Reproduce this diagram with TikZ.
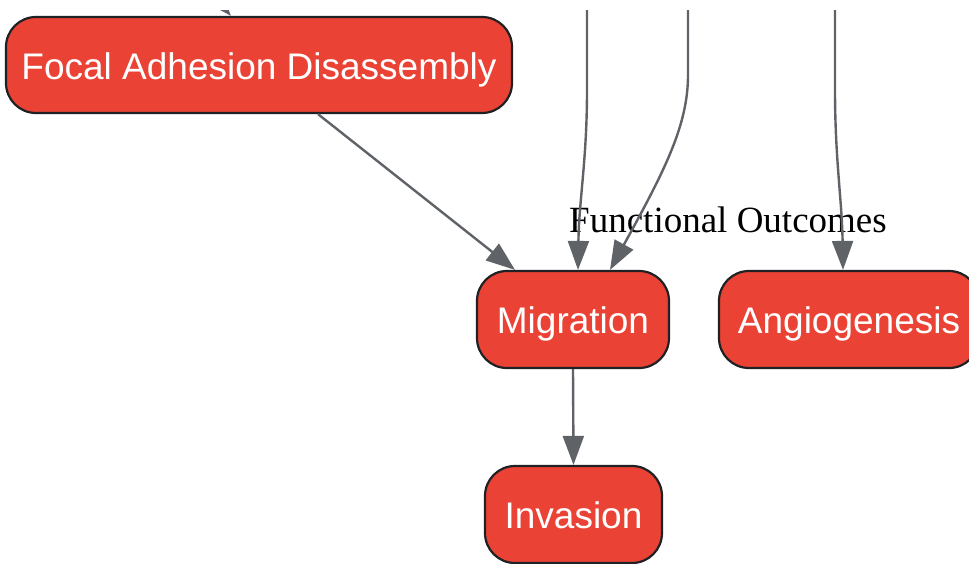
\documentclass[tikz,border=0pt]{standalone}
\usepackage{fontspec}
\setmainfont{Liberation Serif}
\newfontfamily\nodefont{Liberation Sans}
\usetikzlibrary{arrows.meta,calc}
\definecolor{nodered}{HTML}{EA4335}
\definecolor{edgegray}{HTML}{5F6368}
\definecolor{borderdark}{HTML}{202124}
\tikzset{
  proc/.style={draw=borderdark, line width=2.2pt, fill=nodered, rounded corners=30pt,
    text=white, font=\nodefont\fontsize{37}{40}\selectfont, inner sep=0pt, align=center,
    text height=31pt, text depth=3pt},
  conn/.style={draw=edgegray, line width=2.4pt, -{Triangle[length=29pt,width=21pt]}},
}
\begin{document}
\begin{tikzpicture}[x=1pt,y=-1pt]
\useasboundingbox (0,0) rectangle (969,563);
\clip (0,10) rectangle (969,563);
\node[proc, minimum width=506pt, minimum height=96pt] (fad) at (259,65) {Focal Adhesion Disassembly};
\node[proc, minimum width=192pt, minimum height=97pt] (mig) at (573,319.5) {Migration};
\node[proc, minimum width=260pt, minimum height=97pt] (ang) at (849,319.5) {Angiogenesis};
\node[proc, minimum width=177pt, minimum height=97pt] (inv) at (573.5,514.5) {Invasion};
\node[font=\fontsize{37}{40}\selectfont, inner sep=0pt, anchor=base] (lbl) at (728,232) {Functional Outcomes};
\coordinate (s0) at (196,-24);
\coordinate (s1) at (587,-5);
\coordinate (s2) at (688,-5);
\coordinate (s3) at (835,-5);
\draw[conn] (s0) -- ([xshift=-28pt]fad.north);
\draw[conn] ([xshift=59pt]fad.south) -- ([xshift=-58pt]mig.north);
\draw[conn] (s1) -- (587,90) .. controls (587,160) and (579,200) .. ([xshift=5pt]mig.north);
\draw[conn] (s2) -- (688,75) .. controls (688,125) and (665,170) .. ([xshift=37pt]mig.north);
\draw[conn] (s3) -- (835,90) .. controls (835,160) and (842,200) .. ([xshift=-6pt]ang.north);
\draw[conn] (mig.south) -- (inv.north);
\end{tikzpicture}
\end{document}
